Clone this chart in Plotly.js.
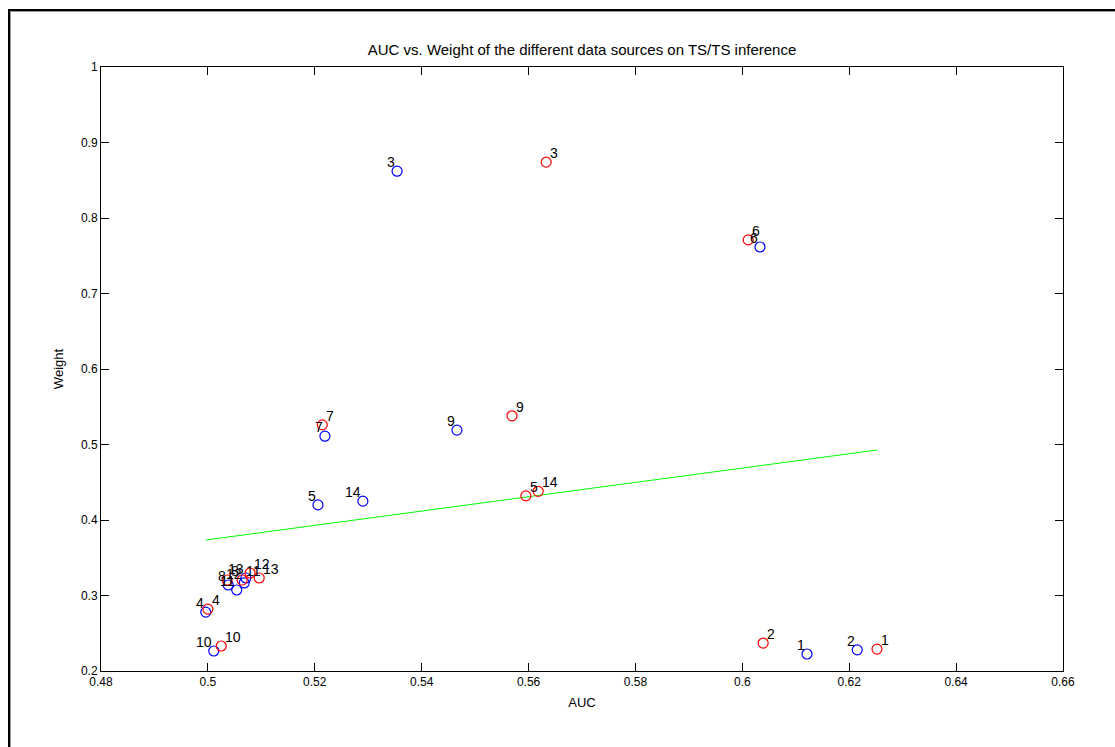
<!DOCTYPE html>
<html>
<head>
<meta charset="utf-8">
<script src="https://cdn.plot.ly/plotly-3.0.1.min.js"></script>
<style>
  html, body { margin: 0; padding: 0; background: #fff; }
  #wrap { position: relative; width: 1115px; height: 747px; overflow: hidden; }
  #frame { position: absolute; left: 8px; top: 9px; width: 1200px; height: 900px;
           border-left: 2px solid #000; border-top: 2px solid #000;
           box-shadow: 1px 1px 0 #999 inset; pointer-events: none; }
  #chart { position: absolute; left: 0; top: 0; }
</style>
</head>
<body>
<div id="wrap">
  <div id="chart"></div>
  <div id="frame"></div>
</div>
<script>
// Data source indices shown next to each marker
const blueLabels = ['1', '2', '3', '4', '5', '6', '7', '8', '9', '10', '11', '12', '13', '14'];
const blueAUC    = [0.6121, 0.6215, 0.5354, 0.4996, 0.5206, 0.6033, 0.5219, 0.5038, 0.5466, 0.5011, 0.5054, 0.5068, 0.5071, 0.5290];
const blueWeight = [0.2225, 0.2280, 0.8620, 0.2780, 0.4200, 0.7616, 0.5110, 0.3139, 0.5190, 0.2265, 0.3073, 0.3166, 0.3232, 0.4250];

const redLabels  = ['1', '2', '3', '4', '5', '6', '7', '8', '9', '10', '11', '12', '13', '14'];
const redAUC     = [0.6252, 0.6039, 0.5633, 0.5000, 0.5595, 0.6011, 0.5214, 0.5036, 0.5569, 0.5025, 0.5064, 0.5079, 0.5096, 0.5618];
const redWeight  = [0.2290, 0.2370, 0.8740, 0.2820, 0.4320, 0.7710, 0.5260, 0.3205, 0.5380, 0.2331, 0.3205, 0.3298, 0.3232, 0.4380];

// Fitted trend line endpoints
const fitAUC    = [0.4996, 0.6252];
const fitWeight = [0.3735, 0.4927];

const xTickVals = [0.48, 0.5, 0.52, 0.54, 0.56, 0.58, 0.6, 0.62, 0.64, 0.66];
const xTickText = ['0.48', '0.5', '0.52', '0.54', '0.56', '0.58', '0.6', '0.62', '0.64', '0.66'];
const yTickVals = [0.2, 0.3, 0.4, 0.5, 0.6, 0.7, 0.8, 0.9, 1];
const yTickText = ['0.2', '0.3', '0.4', '0.5', '0.6', '0.7', '0.8', '0.9', '1'];

const FONT = 'Liberation Sans, Arial, Helvetica, sans-serif';
const labelFont = { family: FONT, size: 14, color: '#000' };

const traces = [
  {
    x: fitAUC, y: fitWeight, mode: 'lines',
    line: { color: '#00ff00', width: 1 },
    hoverinfo: 'skip', showlegend: false
  },
  {
    x: blueAUC, y: blueWeight, mode: 'markers',
    marker: { symbol: 'circle-open', size: 10, color: '#0000ff', line: { width: 1.2 } },
    showlegend: false
  },
  {
    x: redAUC, y: redWeight, mode: 'markers',
    marker: { symbol: 'circle-open', size: 10, color: '#ff0000', line: { width: 1.2 } },
    showlegend: false
  }
];

// Index labels: blue ones sit up-left of their marker, red ones up-right
const annotations = [];
blueLabels.forEach((t, i) => annotations.push({
  x: blueAUC[i], y: blueWeight[i], xref: 'x', yref: 'y', text: t, showarrow: false,
  xanchor: 'right', yanchor: 'middle', xshift: -1, yshift: 9, font: labelFont,
  borderpad: 0
}));
redLabels.forEach((t, i) => annotations.push({
  x: redAUC[i], y: redWeight[i], xref: 'x', yref: 'y', text: t, showarrow: false,
  xanchor: 'left', yanchor: 'middle', xshift: 3, yshift: 9, font: labelFont,
  borderpad: 0
}));

const axisCommon = {
  showgrid: false, zeroline: false,
  showline: true, linecolor: '#000', linewidth: 1, mirror: 'ticks',
  ticks: 'inside', ticklen: 8, tickcolor: '#000', tickwidth: 1,
  tickfont: { family: FONT, size: 12, color: '#000' }
};

const layout = {
  width: 1115, height: 747,
  margin: { l: 101, r: 52, t: 67, b: 76, pad: 0 },
  paper_bgcolor: '#fff', plot_bgcolor: '#fff',
  title: {
    text: 'AUC vs. Weight of the different data sources on TS/TS inference',
    font: { family: FONT, size: 15, color: '#000' },
    x: 0.5, xref: 'paper', y: 1, yref: 'paper', yanchor: 'bottom', pad: { b: 12 }
  },
  xaxis: Object.assign({}, axisCommon, {
    range: [0.48, 0.66], tickvals: xTickVals, ticktext: xTickText,
    title: { text: 'AUC', font: { family: FONT, size: 13, color: '#000' }, standoff: 9 }
  }),
  yaxis: Object.assign({}, axisCommon, {
    range: [0.2, 1], tickvals: yTickVals, ticktext: yTickText,
    title: { text: 'Weight', font: { family: FONT, size: 13, color: '#000' }, standoff: 14 }
  }),
  annotations: annotations,
  hovermode: false
};

Plotly.newPlot('chart', traces, layout, { displayModeBar: false, staticPlot: true });
</script>
</body>
</html>
